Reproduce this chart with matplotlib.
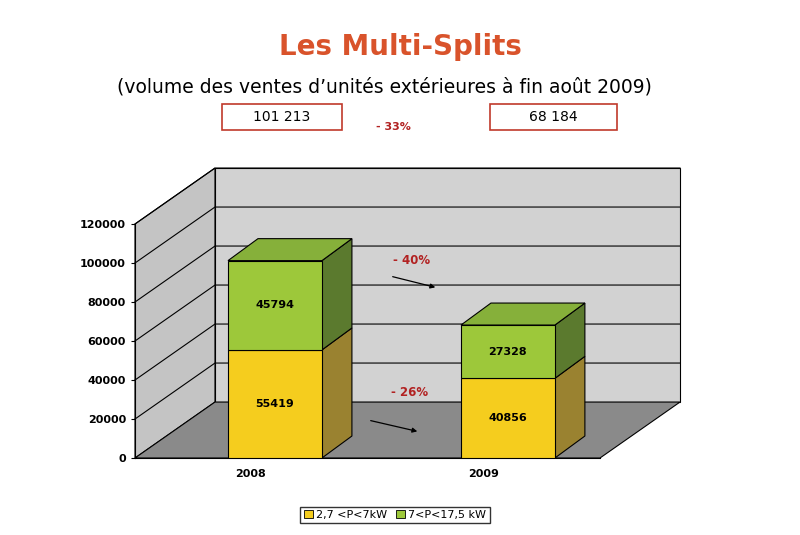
import matplotlib.pyplot as plt
from matplotlib.patches import Polygon, Rectangle

years = ["2008", "2009"]
small = [55419, 40856]      # 2,7 <P<7kW
large = [45794, 27328]      # 7<P<17,5 kW
totals = ["101 213", "68 184"]
series_names = ["2,7 <P<7kW", "7<P<17,5 kW"]
yticks = [0, 20000, 40000, 60000, 80000, 100000, 120000]

fig = plt.figure(figsize=(8, 5.35), dpi=100)
ax = fig.add_axes([0.16875, 0.1439, 0.58125, 0.4374])
ax.set_xlim(0, 2)
ax.set_ylim(0, 120000)

DX, DY = 0.344, 28700      # wall depth
bdx, bdy = 0.129, 11280     # bar depth
w = 0.404
xpos = [0.602, 1.604]

def poly(pts, fc, ec="black", lw=0.8, z=1):
    ax.add_patch(Polygon(pts, closed=True, fc=fc, ec=ec, lw=lw, zorder=z, clip_on=False))

# walls and floor
poly([(DX, DY), (2 + DX, DY), (2 + DX, 120000 + DY), (DX, 120000 + DY)], "#d2d2d2", z=0)
poly([(0, 0), (DX, DY), (DX, 120000 + DY), (0, 120000)], "#c4c4c4", z=0)
poly([(0, 0), (2, 0), (2 + DX, DY), (DX, DY)], "#8a8a8a", z=0.5)
for v in yticks[1:]:
    ax.plot([0, DX, 2 + DX], [v, v + DY, v + DY], color="black", lw=0.8, zorder=0.6, clip_on=False)

# bars
for x, a, b in zip(xpos, small, large):
    l, r = x - w / 2, x + w / 2
    for bot, h, front, side, top in [(0, a, "#f5cd1e", "#9a8230", None),
                                     (a, b, "#9dc83a", "#5b7a2e", "#86b03a")]:
        ax.add_patch(Rectangle((l, bot), w, h, fc=front, ec="black", lw=0.8, zorder=3))
        poly([(r, bot), (r + bdx, bot + bdy), (r + bdx, bot + h + bdy), (r, bot + h)], side, z=2)
        if top:
            poly([(l, bot + h), (r, bot + h), (r + bdx, bot + h + bdy), (l + bdx, bot + h + bdy)], top, z=2)
        ax.text(x, bot + h / 2, str(h), ha="center", va="center", fontsize=8, fontweight="bold", zorder=4)

ax.set_yticks(yticks)
ax.set_yticklabels([str(v) for v in yticks], fontsize=8, fontweight="bold")
ax.set_xticks([0.495, 1.5])
ax.set_xticklabels(years, fontsize=8, fontweight="bold")
ax.tick_params(axis="x", length=0, pad=8)
ax.tick_params(axis="y", direction="out", length=3)
for s in ["top", "right"]:
    ax.spines[s].set_visible(False)
ax.patch.set_visible(False)

# titles
fig.text(0.5, 1 - 47 / 535, "Les Multi-Splits", ha="center", va="center",
         fontsize=20, fontweight="bold", color="#d9532b")
fig.text(0.48, 0.838, "(volume des ventes d’unités extérieures à fin août 2009)",
         ha="center", va="center", fontsize=13.5)
for (x0, x1), t in zip([(222, 342), (490, 617)], totals):
    fig.add_artist(Rectangle((x0 / 800, 1 - 130 / 535), (x1 - x0) / 800, 26 / 535,
                             transform=fig.transFigure, fc="white", ec="#c0392b", lw=1.2))
    fig.text((x0 + x1) / 1600, 1 - 117 / 535, t, ha="center", va="center", fontsize=10)
fig.text(393 / 800, 1 - 127 / 535, "- 33%", ha="center", va="center", fontsize=8,
         fontweight="bold", color="#b22222")

# change arrows
for (tx, ty), (x0, y0), (x1, y1), t in [((412, 260), (390, 276), (438, 288), "- 40%"),
                                         ((410, 393), (368, 420), (420, 432), "- 26%")]:
    fig.text(tx / 800, 1 - ty / 535, t, ha="center", va="center", fontsize=8.5,
             fontweight="bold", color="#b22222")
    fig.add_artist(plt.Annotation("", xy=(x1 / 800, 1 - y1 / 535), xytext=(x0 / 800, 1 - y0 / 535),
                                  xycoords="figure fraction",
                                  arrowprops=dict(arrowstyle="-|>", color="black", lw=0.9, mutation_scale=7)))

# legend
handles = [Rectangle((0, 0), 1, 1, fc="#f5cd1e", ec="black", lw=0.6),
           Rectangle((0, 0), 1, 1, fc="#9dc83a", ec="black", lw=0.6)]
fig.legend(handles, series_names, loc="center", bbox_to_anchor=(395 / 800, 1 - 515 / 535), ncol=2,
           fontsize=8, frameon=True, fancybox=False, edgecolor="black", handlelength=0.8,
           handleheight=0.8, columnspacing=0.8, handletextpad=0.3, borderpad=0.3)

fig.savefig("out.png", dpi=100, facecolor="white")
